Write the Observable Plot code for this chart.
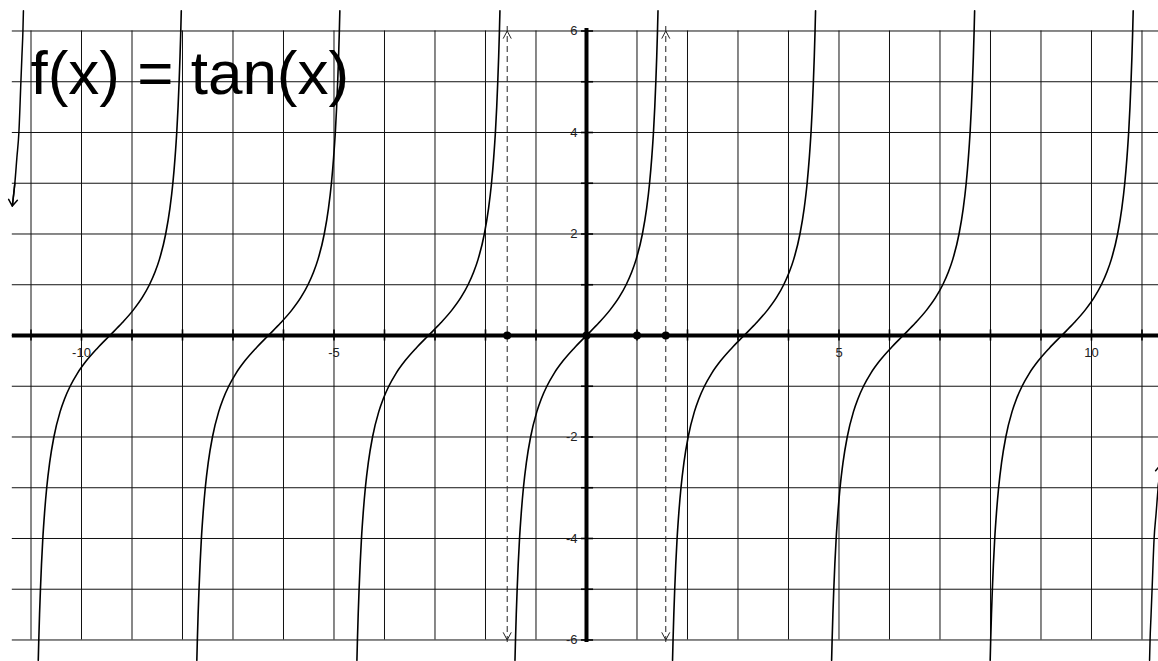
<!DOCTYPE html>
<html><head><meta charset="utf-8">
<script src="https://cdn.jsdelivr.net/npm/d3@7"></script>
<script src="https://cdn.jsdelivr.net/npm/@observablehq/plot@0.6"></script>
<style>
html,body{margin:0;padding:0;background:#fff;}
#chart{width:1158px;height:661px;overflow:hidden;}
</style></head><body><div id="chart"></div>
<script>
// ---- data ----
const titleText = "f(x) = tan(x)";
const gridX = [-11,-10,-9,-8,-7,-6,-5,-4,-3,-2,-1,0,1,2,3,4,5,6,7,8,9,10,11];
const gridY = [-6,-5,-4,-3,-2,-1,0,1,2,3,4,5,6];
const xTickLabels = [-10, -5, 5, 10];
const yTickLabels = [6, 4, 2, -2, -4, -6];
const asymptoteX = [-1.57, 1.57];
const markedX = [-1.57, 0, 1, 1.57];
// zero crossings of the drawn tan branches
const branchCenters = [-9.44, -6.3, -3.13, 0, 3.12, 6.27, 9.41];
// shape of one branch (offset from its zero crossing, value)
const branchDx = [-1.416,-1.406,-1.391,-1.373,-1.352,-1.326,-1.292,-1.249,-1.19,-1.107,-0.983,-0.896,-0.785,-0.644,-0.464,-0.245,0,0.245,0.464,0.644,0.785,0.896,0.983,1.107,1.19,1.249,1.292,1.326,1.352,1.373,1.391,1.406,1.416];
const branchY  = [-6.4,-6,-5.5,-5,-4.5,-4,-3.5,-3,-2.5,-2,-1.5,-1.25,-1,-0.75,-0.5,-0.25,0,0.25,0.5,0.75,1,1.25,1.5,2,2.5,3,3.5,4,4.5,5,5.5,6,6.4];
// partial branches at the left and right edges
const leftEdgeX  = [-11.15,-11.16,-11.18,-11.2,-11.24,-11.28,-11.32,-11.37];
const leftEdgeY  = [6.4, 6, 5.5, 5, 4, 3.5, 3, 2.55];
const rightEdgeX = [11.15, 11.16, 11.18, 11.2, 11.24, 11.28, 11.32, 11.37];
const rightEdgeY = [-6.4, -6, -5.5, -5, -4, -3.5, -3, -2.55];

// ---- layout ----
const W = 1158, H = 661;
const xDomain = [-11.604, 11.327];
const yDomain = [-6.424, 6.601];
const gridStartX = -11.37;
const gridTop = d3.max(gridY), gridBottom = d3.min(gridY);
const armW = 0.08, armH = 0.15;

const branches = branchCenters.flatMap((c, i) => branchDx.map((dx, j) => ({x: c + dx, y: branchY[j], b: i})));
const leftEdge = leftEdgeX.map((x, i) => ({x, y: leftEdgeY[i]}));
const rightEdge = rightEdgeX.map((x, i) => ({x, y: rightEdgeY[i]}));
const edgeHeads = [
  {x1: leftEdgeX.at(-2), y1: leftEdgeY.at(-2), x2: leftEdgeX.at(-1), y2: leftEdgeY.at(-1)},
  {x1: rightEdgeX.at(-2), y1: rightEdgeY.at(-2), x2: rightEdgeX.at(-1), y2: rightEdgeY.at(-1)}
];
// open chevrons at both ends of each dashed asymptote
const chevrons = asymptoteX.flatMap(x => [
  [gridTop, -1], [gridBottom, 1]
].flatMap(([tip, dir]) => [-1, 1].map(s => ({x1: x + s * armW, y1: tip + dir * armH, x2: x, y2: tip}))));

const chart = Plot.plot({
  width: W, height: H,
  marginTop: 0, marginRight: 0, marginBottom: 0, marginLeft: 0,
  x: {domain: xDomain, axis: null},
  y: {domain: yDomain, axis: null},
  style: {fontFamily: "'Liberation Sans', Arial, sans-serif", fontSize: "13px", background: "#fff", color: "#000"},
  marks: [
    Plot.ruleX(gridX, {x: d => d, y1: gridBottom, y2: gridTop, stroke: "#111", strokeWidth: 1}),
    Plot.ruleY(gridY, {y: d => d, x1: gridStartX, x2: xDomain[1] + 0.1, stroke: "#111", strokeWidth: 1}),
    Plot.ruleY([0], {y: d => d, x1: gridStartX, x2: xDomain[1] + 0.1, stroke: "#000", strokeWidth: 4}),
    Plot.ruleX([0], {x: d => d, y1: gridBottom - 0.05, y2: gridTop + 0.05, stroke: "#000", strokeWidth: 4}),
    Plot.ruleX(gridX.filter(d => d !== 0), {x: d => d, y1: -0.11, y2: 0.11, stroke: "#000", strokeWidth: 1.6}),
    Plot.ruleY(gridY.filter(d => d !== 0), {y: d => d, x1: -0.1, x2: 0.14, stroke: "#000", strokeWidth: 1.6}),
    // dashed asymptotes with open arrowheads at both ends
    Plot.ruleX(asymptoteX, {x: d => d, y1: gridBottom - 0.05, y2: gridTop + 0.1, stroke: "#222", strokeWidth: 1, strokeDasharray: "6,4"}),
    Plot.link(chevrons, {x1: "x1", y1: "y1", x2: "x2", y2: "y2", stroke: "#222", strokeWidth: 1}),
    // tan branches
    Plot.line(branches, {x: "x", y: "y", z: "b", stroke: "#000", strokeWidth: 1.6, curve: "monotone-x"}),
    Plot.line(leftEdge, {x: "x", y: "y", stroke: "#000", strokeWidth: 1.5, curve: "monotone-x"}),
    Plot.line(rightEdge, {x: "x", y: "y", stroke: "#000", strokeWidth: 1.5, curve: "monotone-x"}),
    Plot.arrow(edgeHeads, {x1: "x1", y1: "y1", x2: "x2", y2: "y2", stroke: "#000", strokeWidth: 1.5, headLength: 10, headAngle: 70}),
    Plot.dot(markedX, {x: d => d, y: 0, r: 4, fill: "#000", stroke: null}),
    Plot.text(xTickLabels, {x: d => d, y: 0, dy: 17, text: d => String(d), fill: "#222", fontSize: 13}),
    Plot.text(yTickLabels, {x: 0, y: d => d, dx: -9, textAnchor: "end", text: d => String(d), fill: "#222", fontSize: 13}),
    Plot.text([titleText], {frameAnchor: "top-left", text: d => d, textAnchor: "start", lineAnchor: "top", dx: 30, dy: 49, fontSize: 62, fill: "#000"})
  ]
});
document.getElementById("chart").appendChild(chart);
</script></body></html>
